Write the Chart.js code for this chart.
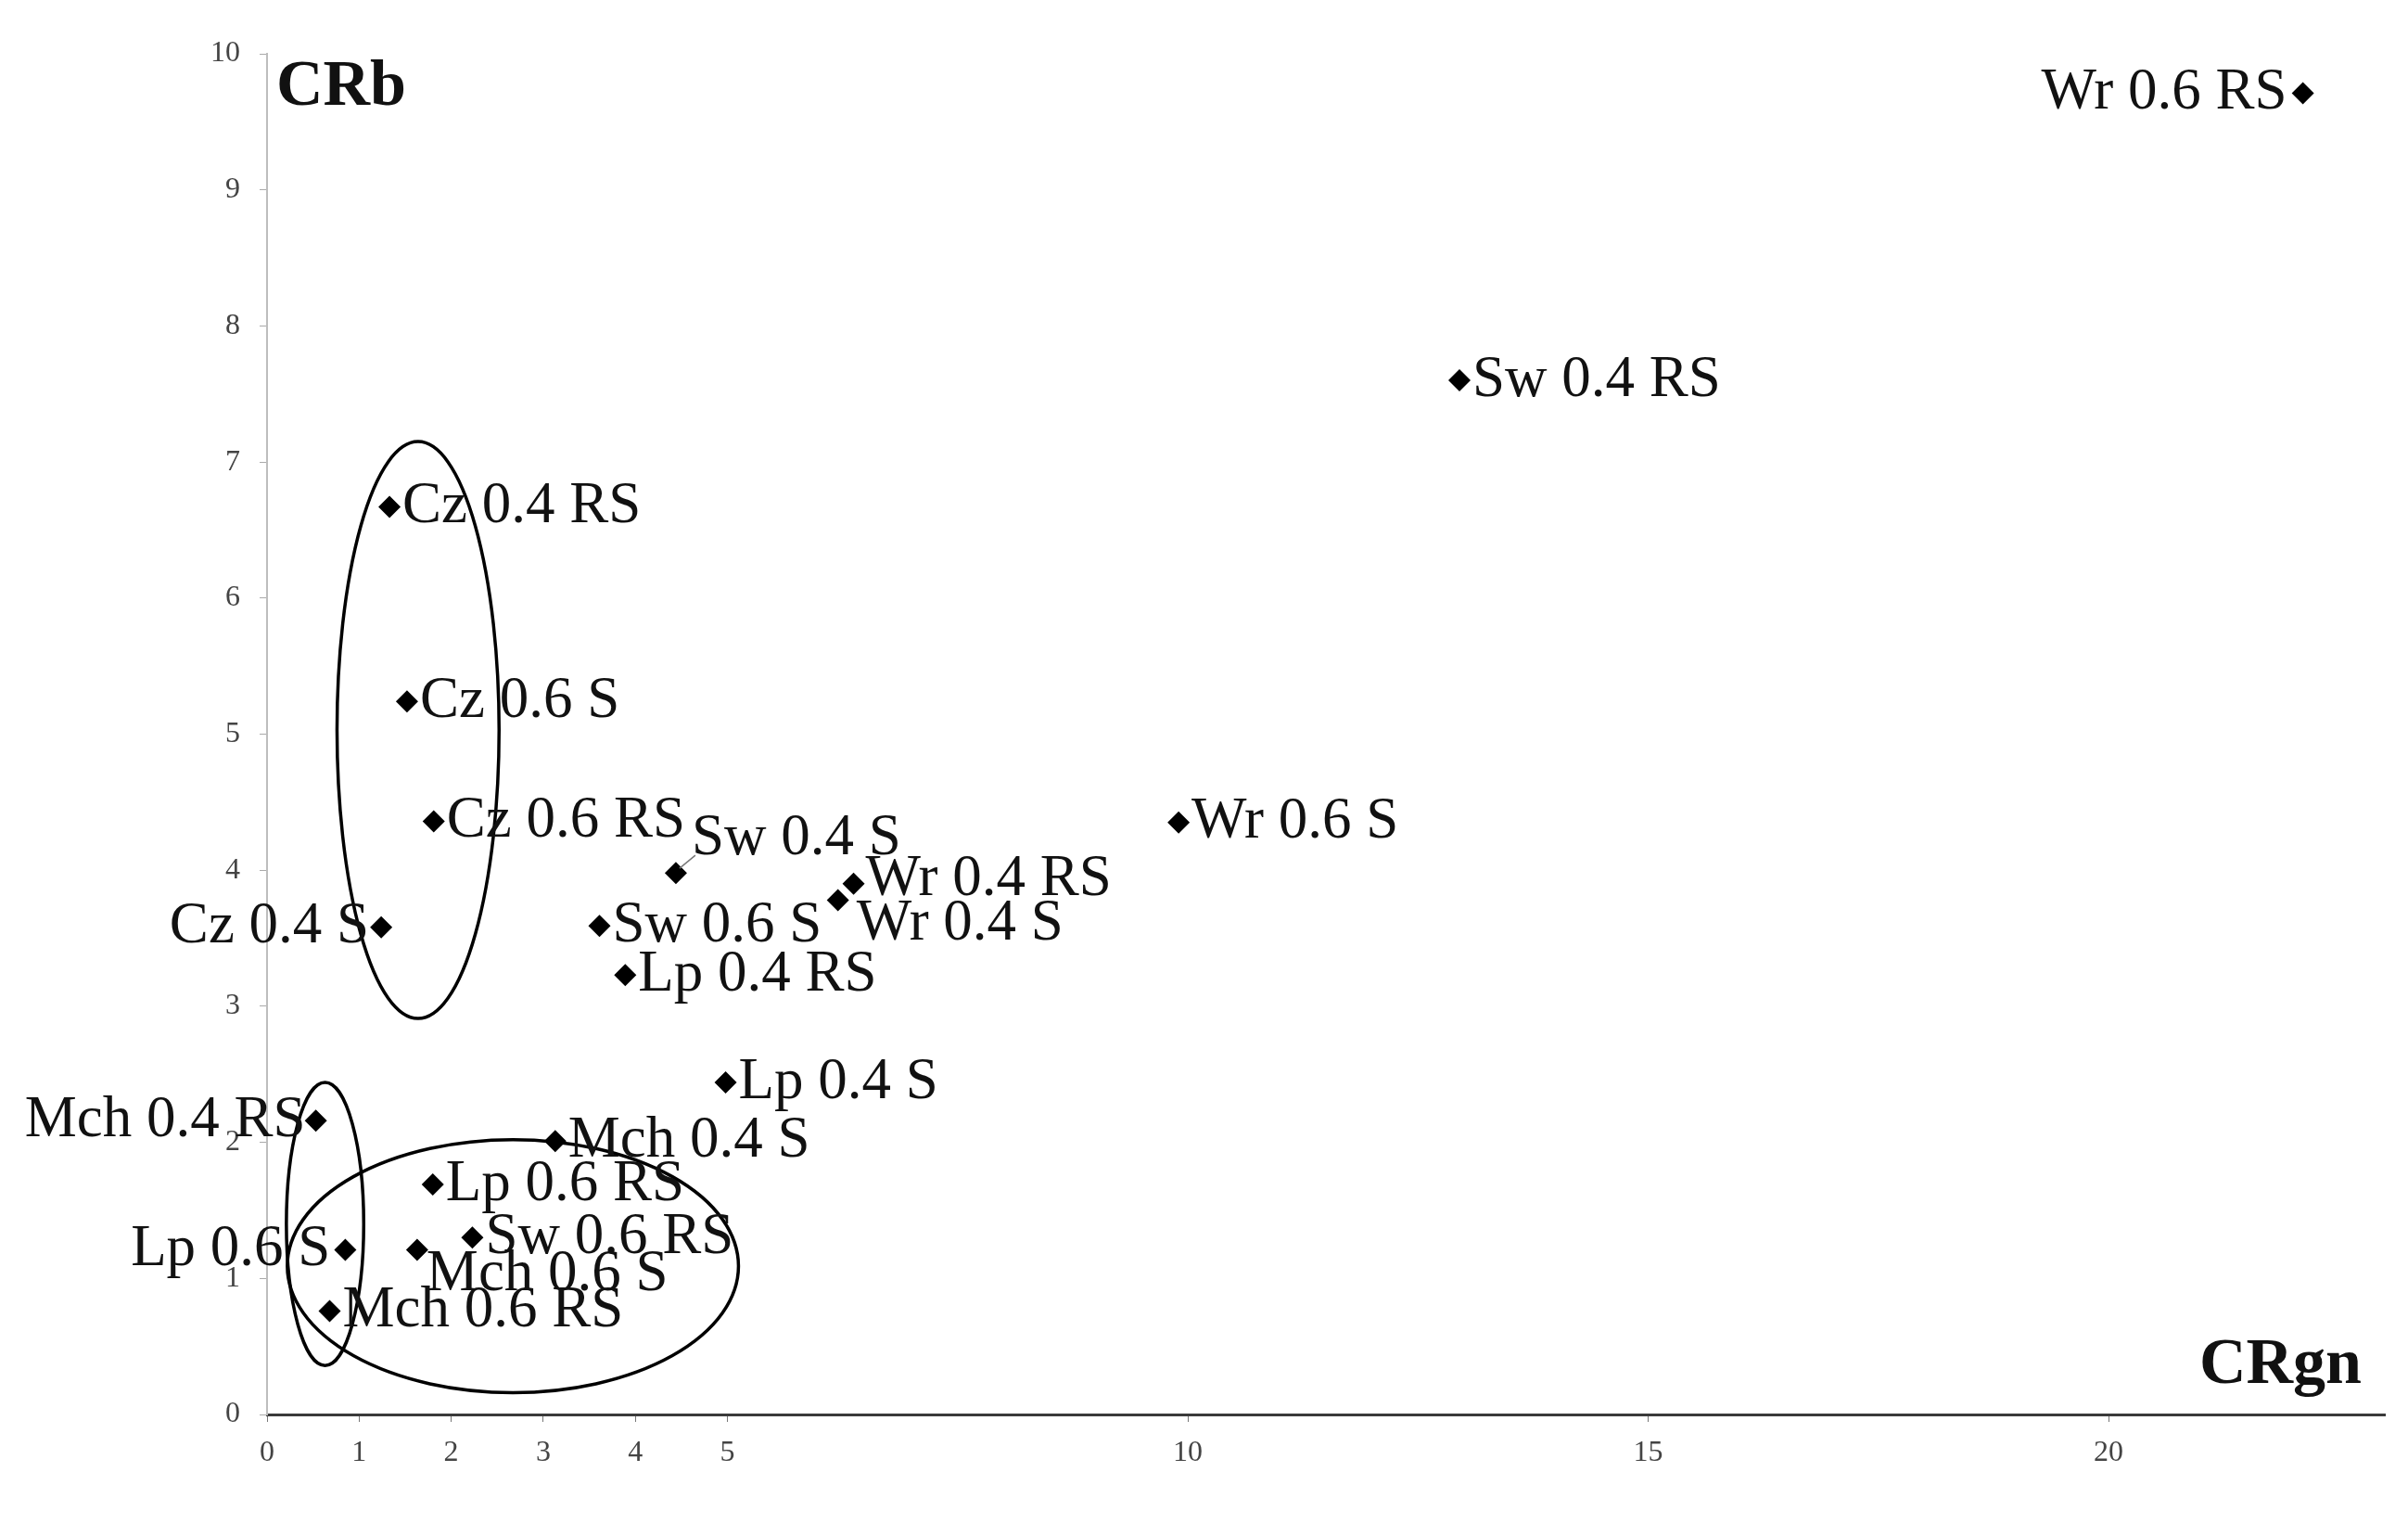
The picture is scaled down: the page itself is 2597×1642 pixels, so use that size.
<!DOCTYPE html>
<html>
<head>
<meta charset="utf-8">
<title>CRb vs CRgn</title>
<script src="https://cdn.jsdelivr.net/npm/chart.js@4.4.1/dist/chart.umd.min.js"></script>
<style>
html,body{margin:0;padding:0;background:#fff;}
#wrap{width:2597px;height:1642px;}
</style>
</head>
<body>
<div id="wrap"><canvas id="crChart" width="2597" height="1642"></canvas></div>
<script>

// values
const pointNames = ["Wr 0.6 RS","Sw 0.4 RS","Cz 0.4 RS","Cz 0.6 S","Cz 0.6 RS","Sw 0.4 S","Wr 0.4 RS","Wr 0.4 S",
  "Wr 0.6 S","Cz 0.4 S","Sw 0.6 S","Lp 0.4 RS","Lp 0.4 S","Mch 0.4 S","Mch 0.4 RS","Lp 0.6 RS",
  "Sw 0.6 RS","Lp 0.6 S","Mch 0.6 S","Mch 0.6 RS"];
const crgnValues = [22.11,12.95,1.33,1.52,1.81,4.44,6.37,6.20,9.90,1.24,3.61,3.89,4.98,3.13,0.53,1.80,2.23,0.85,1.63,0.68];
const crbValues  = [9.71,7.60,6.67,5.24,4.36,3.98,3.90,3.78,4.35,3.58,3.59,3.23,2.44,2.01,2.16,1.69,1.30,1.21,1.21,0.76];

const xTickValues = [0,1,2,3,4,5,10,15,20];
const yTickValues = [0,1,2,3,4,5,6,7,8,9,10];

// group ellipses, in data units (centre, half width, half height)
const groupCx = [1.64,0.63,2.67];
const groupCy = [5.03,1.40,1.09];
const groupRx = [0.88,0.42,2.45];
const groupRy = [2.12,1.04,0.93];

// where each label sits next to its marker (px), default is to the right
const labelPlace = {
  "Wr 0.6 RS": {dx:-17, dy:0, align:"right"},
  "Cz 0.4 S": {dx:-13, dy:0, align:"right"},
  "Mch 0.4 RS": {dx:-11, dy:0, align:"right"},
  "Lp 0.6 S": {dx:-16, dy:0, align:"right"},
  "Mch 0.6 S": {dx:10, dy:27, align:"left"},
  "Sw 0.4 S": {dx:17, dy:-37, align:"left", leader:true},
  "Wr 0.4 S": {dx:20, dy:26, align:"left"},
  "Wr 0.4 RS": {dx:13, dy:-4, align:"left"}
};

const serif = "'Liberation Serif', 'Times New Roman', serif";

let points = [];
for(let i = 0; i < pointNames.length; i++){
  points.push({x: crgnValues[i], y: crbValues[i]});
}

const ellipsePlugin = {
  id: "groupEllipses",
  afterDatasetsDraw(chart){
    const ctx = chart.ctx;
    const xs = chart.scales.x;
    const ys = chart.scales.y;
    ctx.save();
    ctx.strokeStyle = "#000";
    ctx.lineWidth = 3.5;
    for(let i = 0; i < groupCx.length; i++){
      let cx = xs.getPixelForValue(groupCx[i]);
      let cy = ys.getPixelForValue(groupCy[i]);
      let rx = xs.getPixelForValue(groupCx[i] + groupRx[i]) - cx;
      let ry = cy - ys.getPixelForValue(groupCy[i] + groupRy[i]);
      ctx.beginPath();
      ctx.ellipse(cx, cy, rx, ry, 0, 0, Math.PI * 2);
      ctx.stroke();
    }
    ctx.restore();
  }
};

const labelPlugin = {
  id: "pointLabels",
  afterDatasetsDraw(chart){
    const ctx = chart.ctx;
    const meta = chart.getDatasetMeta(0);
    ctx.save();
    ctx.font = "63px " + serif;
    ctx.fillStyle = "#111";
    ctx.textBaseline = "middle";
    meta.data.forEach((pt, i) => {
      let name = pointNames[i];
      let place = labelPlace[name] || {dx:14, dy:0, align:"left"};
      ctx.textAlign = place.align;
      if(place.leader){
        ctx.strokeStyle = "#777";
        ctx.lineWidth = 1.5;
        ctx.beginPath();
        ctx.moveTo(pt.x + 4, pt.y - 5);
        ctx.lineTo(pt.x + place.dx + 4, pt.y + place.dy + 18);
        ctx.stroke();
      }
      ctx.fillText(name, pt.x + place.dx, pt.y + place.dy);
    });

    // axis names sit inside the plot
    const area = chart.chartArea;
    ctx.font = "bold 70px " + serif;
    ctx.textBaseline = "alphabetic";
    ctx.textAlign = "left";
    ctx.fillText("CRb", area.left + 10, area.top + 55);
    ctx.textAlign = "right";
    ctx.fillText("CRgn", area.right - 25, area.bottom - 34);
    ctx.restore();
  }
};

new Chart(document.getElementById("crChart"), {
  type: "scatter",
  data: {
    datasets: [{
      label: "CRb",
      data: points,
      pointStyle: "rectRot",
      pointRadius: 12,
      pointBackgroundColor: "#000",
      pointBorderColor: "#000",
      pointBorderWidth: 0
    }]
  },
  options: {
    responsive: false,
    animation: false,
    layout: {padding: {top: 58, right: 25, left: 0, bottom: 0}},
    plugins: {
      legend: {display: false},
      tooltip: {enabled: false}
    },
    scales: {
      x: {
        type: "linear",
        min: 0,
        max: 23,
        afterBuildTicks: scale => { scale.ticks = xTickValues.map(v => ({value: v})); },
        afterFit: scale => { scale.height = 117; },
        grid: {drawOnChartArea: false, drawTicks: true, tickLength: 8, color: "#777"},
        border: {display: true, color: "#3a3a3a", width: 3},
        ticks: {color: "#444", font: {family: serif, size: 32}, padding: 14, maxRotation: 0, autoSkip: false}
      },
      y: {
        type: "linear",
        min: 0,
        max: 10,
        afterBuildTicks: scale => { scale.ticks = yTickValues.map(v => ({value: v})); },
        afterFit: scale => { scale.width = 288; },
        grid: {drawOnChartArea: false, drawTicks: true, tickLength: 8, color: "#aaa"},
        border: {display: true, color: "#bdbdbd", width: 2},
        ticks: {color: "#444", font: {family: serif, size: 32}, padding: 21, autoSkip: false}
      }
    }
  },
  plugins: [ellipsePlugin, labelPlugin]
});

</script>
</body>
</html>
